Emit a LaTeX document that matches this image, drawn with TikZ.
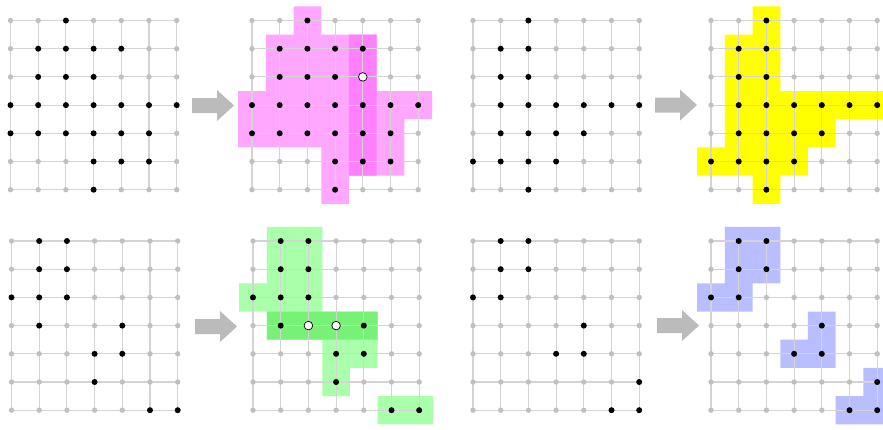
\documentclass[tikz,border=0pt]{standalone}
\definecolor{gridc}{RGB}{212,212,212}
\definecolor{gdotc}{RGB}{192,192,192}
\definecolor{arrowc}{RGB}{187,187,187}
\definecolor{pinkL}{RGB}{255,166,255}
\definecolor{pinkD}{RGB}{255,128,255}
\definecolor{greenL}{RGB}{170,255,170}
\definecolor{greenD}{RGB}{119,242,119}
\definecolor{yel}{RGB}{255,255,0}
\definecolor{blu}{RGB}{184,190,255}
\tikzset{
  gline/.style={draw=gridc, line width=1.1pt},
  gdot/.style={fill=gdotc},
  bdot/.style={fill=black},
  wdot/.style={fill=white, draw=black, line width=0.7pt},
  bigarrow/.style={fill=arrowc},
  cellgrid/.style={x=27.7pt, y=-28.2pt}
}
\newcommand\drawgrid{%
  \foreach \k in {0,...,6} {
    \draw[gline] (\k,0) -- (\k,6);
    \draw[gline] (0,\k) -- (6,\k);
  }
  \foreach \c in {0,...,6} \foreach \r in {0,...,6} \fill[gdot] (\c,\r) circle[radius=2.7pt];
}
\newcommand\blackdots[1]{\edef\mylist{#1}\foreach \c/\r in \mylist \fill[bdot] (\c,\r) circle[radius=3pt];}
\newcommand\whitedots[1]{\edef\mylist{#1}\foreach \c/\r in \mylist \filldraw[wdot] (\c,\r) circle[radius=4.3pt];}
\newcommand\cells[2]{\edef\mylist{#2}\fill[#1] \foreach \c/\r in \mylist {(\c-0.5,\r-0.5) rectangle (\c+0.5,\r+0.5)};}
\newcommand\bigarrowat[2]{\fill[bigarrow] (#1,#2) ++(0,-7.5) -- ++(25,0) -- ++(0,-8) -- ++(17,15.5) -- ++(-17,15.5) -- ++(0,-8) -- ++(-25,0) -- cycle;}
\def\listA{2/0,1/1,2/1,3/1,4/1,1/2,2/2,3/2,0/3,1/3,2/3,3/3,4/3,5/3,6/3,0/4,1/4,2/4,3/4,4/4,5/4,3/5,4/5,5/5,3/6}
\def\listB{2/0,1/1,2/1,1/2,2/2,1/3,2/3,3/3,4/3,5/3,6/3,1/4,2/4,3/4,4/4,0/5,1/5,2/5,3/5,2/6}
\def\listC{1/0,2/0,1/1,2/1,0/2,1/2,2/2,1/3,4/3,3/4,4/4,3/5,5/6,6/6}
\def\listD{1/0,2/0,1/1,2/1,0/2,1/2,4/3,3/4,4/4,6/5,5/6,6/6}
\begin{document}
\begin{tikzpicture}[x=1pt,y=-1pt]
\useasboundingbox (0,0) rectangle (883,429);
\begin{scope}
\clip (0,0) rectangle (883,429);
% grid 1
\begin{scope}[shift={(10.5,20.5)},cellgrid]
  \drawgrid
  \blackdots{\listA}
\end{scope}
% grid 2
\begin{scope}[shift={(252,20.5)},cellgrid]
  \cells{pinkL}{\listA,4/2}
  \cells{pinkD}{4/1,4/2,4/3,4/4,4/5}
  \drawgrid
  \blackdots{\listA}
  \whitedots{4/2}
\end{scope}
% grid 3
\begin{scope}[shift={(473,20.5)},cellgrid]
  \drawgrid
  \blackdots{\listB}
\end{scope}
% grid 4
\begin{scope}[shift={(711,20.5)},cellgrid]
  \cells{yel}{\listB}
  \drawgrid
  \blackdots{\listB}
\end{scope}
% grid 5
\begin{scope}[shift={(11.5,241)},cellgrid]
  \drawgrid
  \blackdots{\listC}
\end{scope}
% grid 6
\begin{scope}[shift={(253,241)},cellgrid]
  \cells{greenL}{\listC,2/3,3/3}
  \cells{greenD}{1/3,2/3,3/3,4/3}
  \drawgrid
  \blackdots{\listC}
  \whitedots{2/3,3/3}
\end{scope}
% grid 7
\begin{scope}[shift={(473,241)},cellgrid]
  \drawgrid
  \blackdots{\listD}
\end{scope}
% grid 8
\begin{scope}[shift={(711,241)},cellgrid]
  \cells{blu}{\listD}
  \drawgrid
  \blackdots{\listD}
\end{scope}
% arrows
\bigarrowat{192}{105.5}
\bigarrowat{655}{105}
\bigarrowat{195}{326.5}
\bigarrowat{657}{325.5}
\end{scope}
\end{tikzpicture}
\end{document}
